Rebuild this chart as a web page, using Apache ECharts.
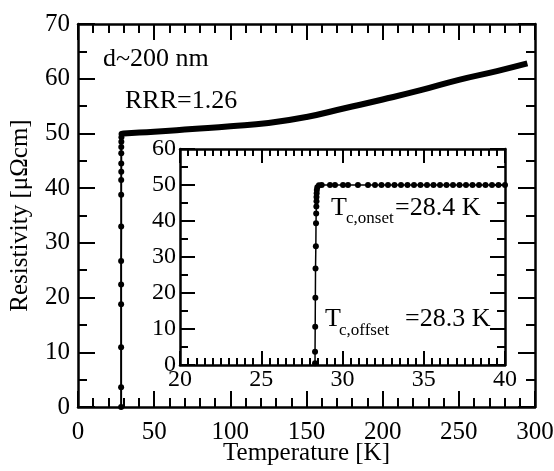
<!DOCTYPE html>
<html>
<head>
<meta charset="utf-8">
<script src="https://cdn.jsdelivr.net/npm/echarts@6/dist/echarts.min.js"></script>
<style>
  html, body { margin: 0; padding: 0; background: #fff; }
  #main { width: 554px; height: 471px; }
</style>
</head>
<body>
<div id="main"></div>
<script>
// 主图：超导转变（带点）
var mainTransT = [28.3, 28.3, 28.3, 28.3, 28.3, 28.3, 28.35, 28.35, 28.35, 28.4, 28.4, 28.4, 28.4, 28.45, 28.5, 28.6];
var mainTransR = [0, 3.6, 10.9, 18.8, 22.4, 26.7, 33.0, 38.8, 41.5, 43.0, 44.5, 46.4, 47.5, 48.5, 49.3, 49.9];
// 主图：正常态
var mainNormT = [28.6, 30, 50, 75, 100, 125, 150, 175, 200, 225, 250, 275, 295];
var mainNormR = [49.9, 50.0, 50.3, 50.8, 51.3, 51.9, 53.0, 54.6, 56.2, 57.9, 59.8, 61.4, 62.8];
// 插图
var insetT = [28.31, 28.31, 28.32, 28.33, 28.34, 28.36, 28.37, 28.38, 28.39, 28.4, 28.4, 28.41, 28.42, 28.45, 28.55, 28.72,
              29.23, 29.54, 30.03, 30.34, 30.95, 31.57, 32.0, 32.4, 32.8, 33.2, 33.6, 34.0, 34.4, 34.8, 35.2, 35.6,
              36.0, 36.4, 36.8, 37.2, 37.6, 38.0, 38.4, 38.8, 39.2, 39.6, 40.0];
var insetR = [0.5, 3.7, 10.6, 18.7, 26.8, 33.0, 39.4, 42.1, 44.0, 45.5, 46.7, 47.7, 48.6, 49.4, 49.9, 50.0,
              50.0, 50.0, 50.0, 50.0, 50.0, 50.0, 50.0, 50.0, 50.0, 50.0, 50.0, 50.0, 50.0, 50.0, 50.0, 50.0,
              50.0, 50.0, 50.0, 50.0, 50.0, 50.0, 50.0, 50.0, 50.0, 50.0, 50.0];

function zip(a, b) {
  return a.map(function (v, i) { return [v, b[i]]; });
}

var FONT = "'Liberation Serif', serif";
// 上边/右边的镜像轴从一个极小的正数开始，这样它们不会被 onZero 挪到 0 的位置
var EPS = 1e-9;

function axisCommon(opt) {
  var base = {
    axisLine: { show: true, lineStyle: { color: '#000', width: 2.5 } },
    axisTick: { show: true, inside: true, length: opt.major, lineStyle: { color: '#000', width: 2 } },
    minorTick: { show: true, splitNumber: opt.minor, length: opt.minorLen, lineStyle: { color: '#000', width: 2 } },
    splitLine: { show: false },
    axisLabel: { show: opt.label, fontFamily: FONT, fontSize: opt.fontSize || 14, margin: opt.margin || 8, color: '#000' }
  };
  for (var k in opt.extra) base[k] = opt.extra[k];
  return base;
}

// 只用来放轴名的隐藏轴
function nameAxis(gi, pos, name, gap) {
  return {
    type: 'value', gridIndex: gi, position: pos, min: 0, max: 1,
    axisLine: { show: false }, axisTick: { show: false }, axisLabel: { show: false }, splitLine: { show: false },
    name: name, nameLocation: 'middle', nameGap: gap,
    nameTextStyle: { color: '#000', fontFamily: FONT, fontSize: 25 }
  };
}

function txt(s, x, y, size) {
  return { text: s, left: x, top: y, padding: 0,
    textStyle: { fontFamily: FONT, fontSize: size, fontWeight: 'normal', color: '#000' } };
}

var myChart = echarts.init(document.getElementById('main'));

var option = {
  animation: false,
  title: [
    txt('d~200 nm', 103, 46, 26),
    txt('RRR=1.26', 125, 88, 26),
    txt('T', 331, 195, 26),
    txt('c,onset', 346, 210, 17),
    txt('=28.4 K', 395, 195, 26),
    txt('T', 325, 306, 26),
    txt('c,offset', 339, 322, 17),
    txt('=28.3 K', 405, 306, 26)
  ],
  grid: [
    { left: 78, top: 24, width: 457, height: 383, outerBoundsMode: 'none', containLabel: false },
    { left: 180, top: 149, width: 325, height: 216, outerBoundsMode: 'none', containLabel: false },
    { left: 78, top: 24, width: 457, height: 383, outerBoundsMode: 'none', containLabel: false }
  ],
  xAxis: [
    axisCommon({ major: 16, minor: 5, minorLen: 9, label: true, fontSize: 25, margin: 13,
      extra: { type: 'value', gridIndex: 0, position: 'bottom', min: 0, max: 300, interval: 50 } }),
    axisCommon({ major: 16, minor: 5, minorLen: 9, label: false,
      extra: { type: 'value', gridIndex: 0, position: 'top', min: EPS, max: 300, interval: 50 } }),
    axisCommon({ major: 14, minor: 10, minorLen: 7, label: true, fontSize: 24, margin: 3,
      extra: { type: 'value', gridIndex: 1, position: 'bottom', min: 20, max: 40, interval: 5 } }),
    axisCommon({ major: 14, minor: 10, minorLen: 7, label: false,
      extra: { type: 'value', gridIndex: 1, position: 'top', min: 20, max: 40, interval: 5 } }),
    nameAxis(2, 'bottom', 'Temperature [K]', 34)
  ],
  yAxis: [
    axisCommon({ major: 17, minor: 2, minorLen: 9, label: true, fontSize: 25, margin: 8,
      extra: { type: 'value', gridIndex: 0, position: 'left', min: 0, max: 70, interval: 10 } }),
    axisCommon({ major: 17, minor: 2, minorLen: 9, label: false,
      extra: { type: 'value', gridIndex: 0, position: 'right', min: EPS, max: 70, interval: 10 } }),
    axisCommon({ major: 15, minor: 2, minorLen: 8, label: true, fontSize: 24, margin: 4,
      extra: { type: 'value', gridIndex: 1, position: 'left', min: 0, max: 60, interval: 10 } }),
    axisCommon({ major: 15, minor: 2, minorLen: 8, label: false,
      extra: { type: 'value', gridIndex: 1, position: 'right', min: EPS, max: 60, interval: 10 } }),
    nameAxis(2, 'left', 'Resistivity [\u03bc\u03a9cm]', 45)
  ],
  series: [
    {
      type: 'line', xAxisIndex: 0, yAxisIndex: 0,
      data: zip(mainNormT, mainNormR),
      showSymbol: false, smooth: true,
      lineStyle: { color: '#000', width: 6 }
    },
    {
      type: 'line', xAxisIndex: 0, yAxisIndex: 0,
      data: zip(mainTransT, mainTransR),
      symbol: 'circle', symbolSize: 6,
      itemStyle: { color: '#000' },
      lineStyle: { color: '#000', width: 2 }
    },
    {
      type: 'line', xAxisIndex: 2, yAxisIndex: 2,
      data: zip(insetT, insetR),
      symbol: 'circle', symbolSize: 6,
      itemStyle: { color: '#000' },
      lineStyle: { color: '#000', width: 1.5 }
    }
  ]
};

myChart.setOption(option);
</script>
</body>
</html>
